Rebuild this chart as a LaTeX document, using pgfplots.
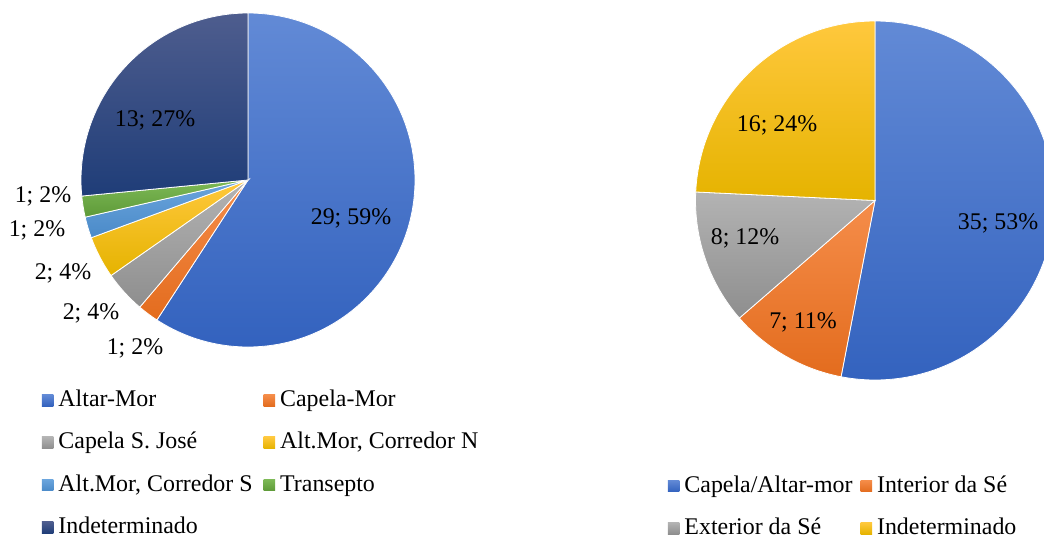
\documentclass[border=0pt]{standalone}
\usepackage{fontspec}
\setmainfont{Liberation Serif}
\usepackage{pgfplots}
\pgfplotsset{compat=1.18}

% slice colours: top / bottom of the gradient
\definecolor{aT}{HTML}{628AD6}\definecolor{aB}{HTML}{3362BE}
\definecolor{bT}{HTML}{F58D4A}\definecolor{bB}{HTML}{E36C1E}
\definecolor{cT}{HTML}{B3B3B3}\definecolor{cB}{HTML}{8E8E8E}
\definecolor{dT}{HTML}{FFC83D}\definecolor{dB}{HTML}{E5B300}
\definecolor{eT}{HTML}{6BA5DD}\definecolor{eB}{HTML}{4A8AC8}
\definecolor{fT}{HTML}{7DB956}\definecolor{fB}{HTML}{5E9A38}
\definecolor{gT}{HTML}{4E5D8E}\definecolor{gB}{HTML}{1F3D78}

\newcommand{\lbl}{\fontsize{11.95}{14}\selectfont}

% #1,#2 centre (px, y down), #3 radius (px), #4 total, #5 value/top/bottom/labelx/labely/label
\newcommand{\pie}[5]{%
  \pgfplotsextra{%
    \gdef\cum{0}%
    \foreach \v/\ct/\cb/\lx/\ly/\lab in {#5} {
      \pgfmathsetmacro\angA{90-\cum/#4*360}
      \pgfmathsetmacro\angB{90-(\cum+\v)/#4*360}
      \path[top color=\ct, bottom color=\cb, draw=white, line width=0.4pt]
        (axis cs:#1,{537-#2}) -- (axis cs:{#1+#3*cos(\angA)},{537-#2+#3*sin(\angA)})
        arc[start angle=\angA, end angle=\angB, radius={#3*0.5pt}] -- cycle;
      \node[font=\lbl, inner sep=0pt] at (axis cs:\lx,{537-\ly}) {\lab};
      \pgfmathsetmacro\tmp{\cum+\v}
      \global\let\cum\tmp
    }
  }%
}

\pgfplotsset{
  piecanvas/.style={x=0.5pt, y=0.5pt, xmin=0, xmax=1044, ymin=0, ymax=537,
    hide axis, anchor=south west, at={(0,0)},
    legend columns=2, legend cell align=left,
    legend image code/.code={\path[##1, draw=none] (0pt,-3.25pt) rectangle (5.75pt,2.5pt);},
    legend style={draw=none, fill=none, inner sep=0pt, outer sep=0pt,
      anchor=north west, font=\lbl, row sep=11.2pt,
      nodes={inner sep=0pt, text height=8.5pt, text depth=1.5pt},
      /tikz/every odd column/.append style={column sep=2.5pt}}},
}

\begin{document}
\begin{tikzpicture}
\useasboundingbox (0,0) rectangle (522pt,268.5pt);
\clip (0,0) rectangle (522pt,268.5pt);

\begin{axis}[piecanvas,
  legend style={at={(0.0402,0.2745)},
    /tikz/every even column/.append style={column sep=5.5pt}}]
\pie{248}{180}{167}{49}{
  29/aT/aB/351/218/{29; 59\%},
  1/bT/bB/135/348/{1; 2\%},
  2/cT/cB/91/313/{2; 4\%},
  2/dT/dB/63/273/{2; 4\%},
  1/eT/eB/37/230/{1; 2\%},
  1/fT/fB/43/196/{1; 2\%},
  13/gT/gB/155/120/{13; 27\%}}
\addlegendimage{top color=aT, bottom color=aB}\addlegendentry{Altar-Mor}
\addlegendimage{top color=bT, bottom color=bB}\addlegendentry{Capela-Mor}
\addlegendimage{top color=cT, bottom color=cB}\addlegendentry{Capela S. José}
\addlegendimage{top color=dT, bottom color=dB}\addlegendentry{Alt.Mor, Corredor N}
\addlegendimage{top color=eT, bottom color=eB}\addlegendentry{Alt.Mor, Corredor S}
\addlegendimage{top color=fT, bottom color=fB}\addlegendentry{Transepto}
\addlegendimage{top color=gT, bottom color=gB}\addlegendentry{Indeterminado}
\end{axis}

\begin{axis}[piecanvas,
  legend style={at={(0.6398,0.115)},
    /tikz/every even column/.append style={column sep=4pt}}]
\pie{875}{200.5}{179.5}{66}{
  35/aT/aB/998/223/{35; 53\%},
  7/bT/bB/803/322/{7; 11\%},
  8/cT/cB/745/238/{8; 12\%},
  16/dT/dB/777/125/{16; 24\%}}
\addlegendimage{top color=aT, bottom color=aB}\addlegendentry{Capela/Altar-mor}
\addlegendimage{top color=bT, bottom color=bB}\addlegendentry{Interior da Sé}
\addlegendimage{top color=cT, bottom color=cB}\addlegendentry{Exterior da Sé}
\addlegendimage{top color=dT, bottom color=dB}\addlegendentry{Indeterminado}
\end{axis}
\end{tikzpicture}
\end{document}
